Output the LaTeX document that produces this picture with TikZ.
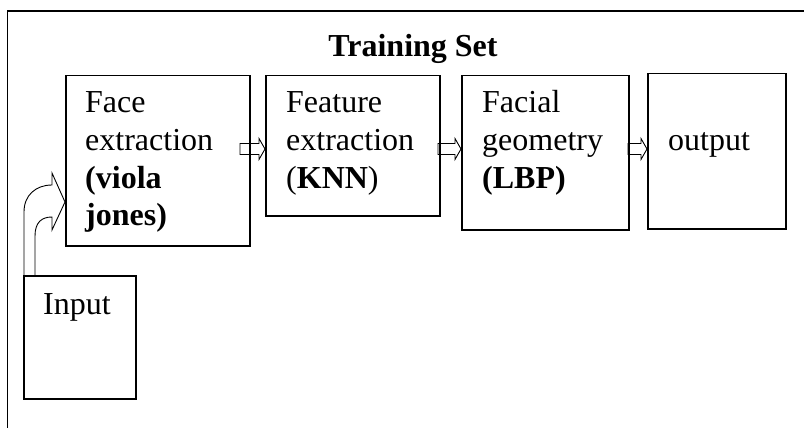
\documentclass[tikz,border=0pt]{standalone}
\usepackage{fontspec}
\setmainfont{Liberation Serif}
\begin{document}
\begin{tikzpicture}[x=1pt,y=-1pt,
  box/.style={draw,line width=1.5pt,anchor=north west,inner sep=0pt},
  lbl/.style={anchor=base west,inner sep=0pt,font=\fontsize{32}{37}\selectfont},
  blk/.style={line width=0.9pt,line join=miter},
  frame/.style={line width=1.2pt}]
\useasboundingbox (0,0) rectangle (804,428);
% outer frame (top and left edges visible)
\coordinate (fbl) at (7.5,428);
\coordinate (ftl) at (7.5,11);
\coordinate (ftr) at (804,11);
\draw[frame] (fbl) -- (ftl) -- (ftr);
\node[anchor=base,inner sep=0pt,font=\fontsize{32}{37}\selectfont\bfseries] (title) at (413,57) {Training Set};
% boxes
\node[box,minimum width=184pt,minimum height=170pt] (face) at (65,75) {};
\node[box,minimum width=174pt,minimum height=140pt] (feat) at (265,75) {};
\node[box,minimum width=167pt,minimum height=154pt] (geom) at (461,75) {};
\node[box,minimum width=138pt,minimum height=155pt] (out) at (647,73) {};
\node[box,minimum width=112pt,minimum height=123pt] (inp) at (23,275) {};
% texts
\node[lbl] (t1a) at (85,113) {Face};
\node[lbl] (t1b) at (85,150.5) {extraction};
\node[lbl] (t1c) at (85,188) {\textbf{(viola}};
\node[lbl] (t1d) at (85,225.5) {\textbf{jones)}};
\node[lbl] (t2a) at (286,113) {Feature};
\node[lbl] (t2b) at (286,150.5) {extraction};
\node[lbl] (t2c) at (286,188) {(\textbf{KNN})};
\node[lbl] (t3a) at (482,113) {Facial};
\node[lbl] (t3b) at (482,150.5) {geometry};
\node[lbl] (t3c) at (482,188) {\textbf{(LBP)}};
\node[lbl] (t4a) at (668,150) {output};
\node[lbl] (t5a) at (43,314) {Input};
% block arrows between boxes (drawn back from the tip at the next box)
\draw[blk] (feat.west |- 0,149) -- ++(-6,-10.5) -- ++(0,5) -- ++(-19,0) -- ++(0,11)
  -- ++(19,0) -- ++(0,5) -- cycle;
\draw[blk] (geom.west |- 0,149) -- ++(-6,-10.5) -- ++(0,5) -- ++(-17,0) -- ++(0,11)
  -- ++(17,0) -- ++(0,5) -- cycle;
\draw[blk] (out.west |- 0,149) -- ++(-6,-10.5) -- ++(0,5) -- ++(-13,0) -- ++(0,11)
  -- ++(13,0) -- ++(0,5) -- cycle;
% curved arrow from Input to Face extraction
\draw[blk]
  (inp.north west) ++(1,0) coordinate (c0)
  -- (24,212) .. controls (24,195) and (36,185) .. (52,185)
  -- (52,173) -- (face.west |- 0,202) -- (52,230) -- (52,217)
  .. controls (42,217) and (35,222) .. (35,236) -- (35,275);
\end{tikzpicture}
\end{document}
